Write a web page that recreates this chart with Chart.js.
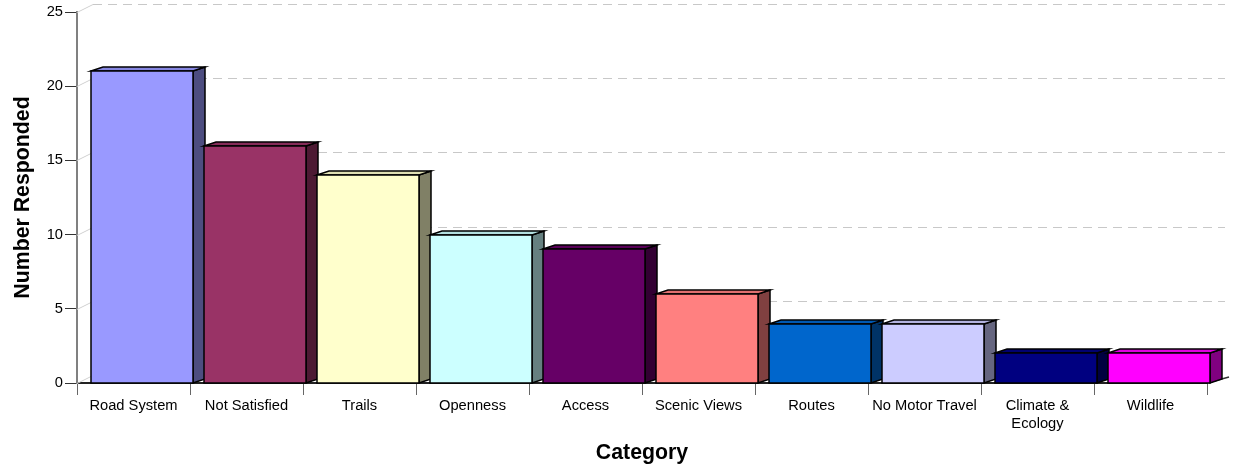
<!DOCTYPE html>
<html>
<head>
<meta charset="utf-8">
<script src="https://cdn.jsdelivr.net/npm/chart.js@4.4.1/dist/chart.umd.min.js"></script>
<style>
  html, body { margin: 0; padding: 0; background: #fff; }
  #wrap { width: 1233px; height: 470px; position: relative; }
</style>
</head>
<body>
<div id="wrap"><canvas id="chart"></canvas></div>
<script>
const categories = ['Road System', 'Not Satisfied', 'Trails', 'Openness', 'Access', 'Scenic Views', 'Routes', 'No Motor Travel', ['Climate &', 'Ecology'], 'Wildlife'];
const responses = [21, 16, 14, 10, 9, 6, 4, 4, 2, 2];
const frontColors = ['#9999FF', '#993366', '#FFFFCC', '#CCFFFF', '#660066', '#FF8080', '#0066CC', '#CCCCFF', '#000080', '#FF00FF'];
const sideColors = ['#4D4D80', '#4D1A33', '#808066', '#668080', '#330033', '#804040', '#003366', '#666680', '#000040', '#800080'];
const yTicks = [0, 5, 10, 15, 20, 25];

const FONT = 'Arial, "Liberation Sans", sans-serif';
const SHIFT = 8.5, DX = 12, DY = 4;

// back wall grid + 3d bars, drawn by hand from the bar elements
const bar3d = {
    id: 'bar3d',
    beforeDatasetsDraw(chart) {
        const ctx = chart.ctx, y = chart.scales.y, a = chart.chartArea;
        ctx.save();
        ctx.lineWidth = 1;
        yTicks.forEach(v => {
            const py = Math.round(y.getPixelForValue(v)) + 0.5;
            // little slope from axis to back wall
            ctx.setLineDash([]);
            ctx.strokeStyle = '#d0d0d0';
            ctx.beginPath(); ctx.moveTo(a.left, py); ctx.lineTo(a.left + 16, py - 8); ctx.stroke();
            if (v === 0) return;
            ctx.setLineDash([9, 6]);
            ctx.strokeStyle = '#c8c8c8';
            ctx.beginPath(); ctx.moveTo(a.left + 16, py - 8); ctx.lineTo(a.right + 18, py - 8); ctx.stroke();
        });
        // floor edge on the right
        ctx.setLineDash([]);
        ctx.strokeStyle = '#333';
        ctx.lineWidth = 1.5;
        ctx.beginPath(); ctx.moveTo(a.right, a.bottom); ctx.lineTo(a.right + 22, a.bottom - 6); ctx.stroke();
        ctx.restore();
    },
    afterDatasetsDraw(chart) {
        const ctx = chart.ctx;
        const meta = chart.getDatasetMeta(0);
        ctx.save();
        ctx.lineWidth = 1.5;
        ctx.strokeStyle = '#000';
        ctx.lineJoin = 'miter';
        meta.data.forEach((bar, i) => {
            const p = bar.getProps(['x', 'y', 'base', 'width'], true);
            const l = Math.round(p.x - p.width / 2 + SHIFT), r = Math.round(p.x + p.width / 2 + SHIFT);
            const t = Math.round(p.y), b = Math.round(p.base);
            // side
            ctx.fillStyle = sideColors[i];
            ctx.beginPath();
            ctx.moveTo(r, t); ctx.lineTo(r + DX, t - DY); ctx.lineTo(r + DX, b - DY); ctx.lineTo(r, b);
            ctx.closePath(); ctx.fill(); ctx.stroke();
            // top
            ctx.fillStyle = frontColors[i];
            ctx.beginPath();
            ctx.moveTo(l, t); ctx.lineTo(l + DX, t - DY); ctx.lineTo(r + DX, t - DY); ctx.lineTo(r, t);
            ctx.closePath(); ctx.fill();
            ctx.fillStyle = 'rgba(0,0,0,0.12)'; ctx.fill(); ctx.stroke();
            // front
            ctx.fillStyle = frontColors[i];
            ctx.fillRect(l, t, r - l, b - t);
            ctx.strokeRect(l, t, r - l, b - t);
        });
        ctx.restore();
    }
};

new Chart(document.getElementById('chart'), {
    type: 'bar',
    data: {
        labels: categories,
        datasets: [{
            data: responses,
            backgroundColor: 'rgba(0,0,0,0)',
            borderWidth: 0,
            barPercentage: 0.9,
            categoryPercentage: 1.0
        }]
    },
    options: {
        responsive: true,
        maintainAspectRatio: false,
        animation: false,
        events: [],
        layout: { padding: { top: 12, right: 26, left: 0, bottom: 0 } },
        plugins: { legend: { display: false }, tooltip: { enabled: false } },
        scales: {
            x: {
                grid: { offset: true, drawOnChartArea: false, tickLength: 12, tickColor: '#666', tickWidth: 1 },
                border: { display: true, color: '#222', width: 2 },
                ticks: { color: '#000', font: { family: FONT, size: 14.7 }, padding: 2, maxRotation: 0, autoSkip: false },
                title: { display: true, text: 'Category', color: '#000', font: { family: FONT, size: 21.3, weight: 'bold' }, padding: { top: 4, bottom: 4 } },
                afterFit(s) { s.height = 87; }
            },
            y: {
                min: 0, max: 25,
                ticks: { stepSize: 5, color: '#000', font: { family: FONT, size: 14.7 }, padding: 2 },
                grid: { drawOnChartArea: false, tickLength: 12, tickColor: '#333', tickWidth: 1 },
                border: { display: true, color: '#808080', width: 2 },
                title: { display: true, text: 'Number Responded', color: '#000', font: { family: FONT, size: 21.3, weight: 'bold' }, padding: { top: 10, bottom: 4 } },
                afterFit(s) { s.width = 77; }
            }
        }
    },
    plugins: [bar3d]
});
</script>
</body>
</html>
